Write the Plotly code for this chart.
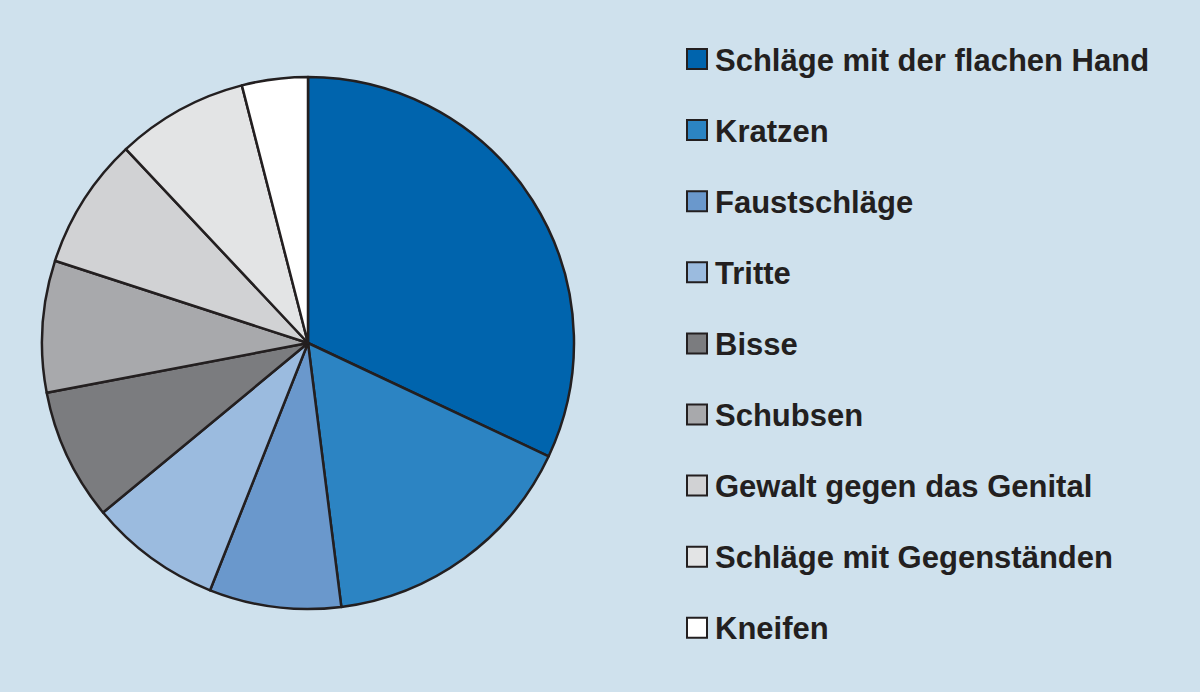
import plotly.graph_objects as go

labels = ["Schläge mit der flachen Hand", "Kratzen", "Faustschläge", "Tritte", "Bisse",
          "Schubsen", "Gewalt gegen das Genital", "Schläge mit Gegenständen", "Kneifen"]
values = [32, 16, 8, 8, 8, 8, 8, 8, 4]
colors = ["#0064ad", "#2c84c3", "#6a98cc", "#9bbbdf", "#7b7c7f",
          "#a8a9ac", "#d1d2d4", "#e3e4e5", "#ffffff"]

BG = "#cfe1ed"
W, H = 1200, 692

fig = go.Figure()
fig.add_trace(go.Pie(
    labels=labels, values=values, sort=False, direction="clockwise", rotation=0,
    marker=dict(colors=colors, line=dict(color="#231f20", width=2.5)),
    textinfo="none", hoverinfo="label+percent", showlegend=False,
    domain=dict(x=[(308 - 266) / W, (308 + 266) / W], y=[1 - 609 / H, 1 - 77 / H]),
))

shapes = []
annotations = []
y0 = 59
step = 71.1
for i, (lab, col) in enumerate(zip(labels, colors)):
    yc = y0 + i * step
    shapes.append(dict(type="rect", xref="paper", yref="paper",
                       x0=687 / W, x1=707 / W, y0=1 - (yc + 10) / H, y1=1 - (yc - 10) / H,
                       fillcolor=col, line=dict(color="#231f20", width=2)))
    annotations.append(dict(xref="paper", yref="paper", x=713 / W, y=1 - (yc + 1) / H,
                            xanchor="left", yanchor="middle", showarrow=False,
                            text="<b>" + lab + "</b>",
                            font=dict(family="Liberation Sans, Arial", size=31, color="#231f20")))

fig.update_layout(
    width=W, height=H, autosize=False,
    margin=dict(l=0, r=0, t=0, b=0),
    paper_bgcolor=BG, plot_bgcolor=BG,
    shapes=shapes, annotations=annotations,
)
fig.write_html("out.html", config={"displayModeBar": False},
               post_script="document.body.style.margin='0';document.body.style.background='%s';" % BG)
